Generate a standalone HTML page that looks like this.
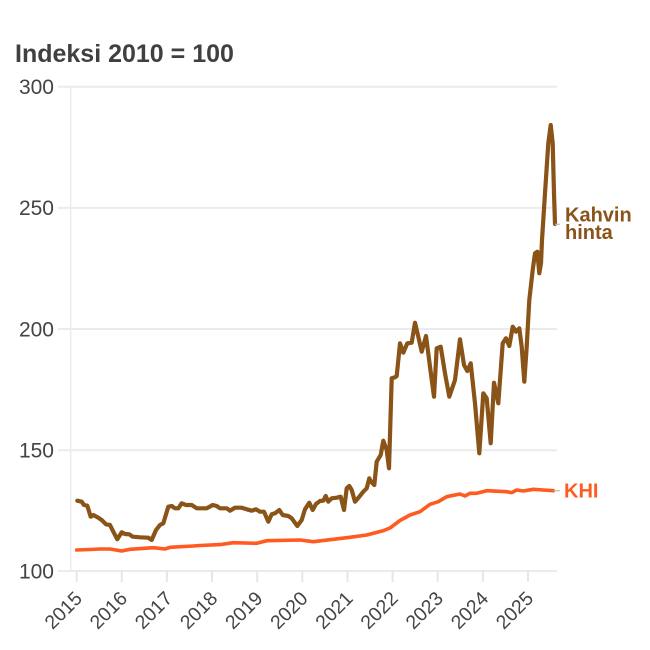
<!DOCTYPE html>
<html>
<head>
<meta charset="utf-8">
<style>
html,body{margin:0;padding:0;background:#fff;width:650px;height:650px;overflow:hidden;}
svg{display:block;font-family:"Liberation Sans",sans-serif;}
</style>
</head>
<body>
<svg width="650" height="650" viewBox="0 0 650 650" xmlns="http://www.w3.org/2000/svg">
<rect x="0" y="0" width="650" height="650" fill="#fff"/>
<text x="15" y="62" font-size="25" font-weight="bold" fill="#404040">Indeksi 2010 = 100</text>

<!-- gridlines -->
<g stroke="#ebebeb" stroke-width="2">
<line x1="58" y1="86.7" x2="557" y2="86.7"/>
<line x1="58" y1="207.9" x2="557" y2="207.9"/>
<line x1="58" y1="329" x2="557" y2="329"/>
<line x1="58" y1="450.3" x2="557" y2="450.3"/>
<line x1="58" y1="571" x2="557" y2="571"/>
</g>
<line x1="70.7" y1="86" x2="70.7" y2="571" stroke="#ededed" stroke-width="1.5"/>

<!-- x ticks -->
<g stroke="#e6e6e6" stroke-width="2">
<line x1="76.7" y1="571" x2="76.7" y2="582"/>
<line x1="121.8" y1="571" x2="121.8" y2="582"/>
<line x1="166.9" y1="571" x2="166.9" y2="582"/>
<line x1="212.1" y1="571" x2="212.1" y2="582"/>
<line x1="257.2" y1="571" x2="257.2" y2="582"/>
<line x1="302.3" y1="571" x2="302.3" y2="582"/>
<line x1="347.5" y1="571" x2="347.5" y2="582"/>
<line x1="392.6" y1="571" x2="392.6" y2="582"/>
<line x1="437.7" y1="571" x2="437.7" y2="582"/>
<line x1="482.9" y1="571" x2="482.9" y2="582"/>
<line x1="528" y1="571" x2="528" y2="582"/>
</g>

<!-- y labels -->
<g font-size="21" fill="#444" text-anchor="end">
<text x="54" y="94">300</text>
<text x="54" y="215.2">250</text>
<text x="54" y="336.3">200</text>
<text x="54" y="457.6">150</text>
<text x="54" y="578.3">100</text>
</g>

<!-- x labels -->
<g font-size="19.5" fill="#444" text-anchor="end">
<text transform="translate(83.3,599.6) rotate(-45)">2015</text>
<text transform="translate(128.4,599.6) rotate(-45)">2016</text>
<text transform="translate(173.5,599.6) rotate(-45)">2017</text>
<text transform="translate(218.7,599.6) rotate(-45)">2018</text>
<text transform="translate(263.8,599.6) rotate(-45)">2019</text>
<text transform="translate(308.9,599.6) rotate(-45)">2020</text>
<text transform="translate(354.1,599.6) rotate(-45)">2021</text>
<text transform="translate(399.2,599.6) rotate(-45)">2022</text>
<text transform="translate(444.3,599.6) rotate(-45)">2023</text>
<text transform="translate(489.5,599.6) rotate(-45)">2024</text>
<text transform="translate(534.6,599.6) rotate(-45)">2025</text>
</g>

<!-- KHI line -->
<polyline fill="none" stroke="#ff5a1f" stroke-width="3.6" stroke-linejoin="round" stroke-linecap="round"
points="76.7,550 90,549.5 100,549 110,549 121.7,551 130,549.3 153.3,547.7 165,549 170,547.3 193.3,546 200,545.5 220,544.6 233.3,542.7 256.7,543.3 266.7,540.7 300,540 313.3,541.7 333.3,539.3 350,537.3 366.7,535 383.3,530.7 390,528 400,520.5 410,515 420,511.7 430,504.3 438.3,501.7 446.7,496.7 460,494 465,496 470,493.3 476.7,493.3 486.7,490.7 506.7,491.7 511.7,492.7 516.7,490 523.3,491 533.3,489.3 543.3,490 553.3,490.7"/>

<!-- Coffee price line -->
<polyline fill="none" stroke="#8a5317" stroke-width="4.2" stroke-linejoin="round" stroke-linecap="round"
points="77.3,500.7 81.7,501.7 84,505 87.3,505.7 90.7,516.7 93.3,515 98.3,517.7 101.7,520 106,524.3 110,525 113.3,531.7 117.3,539.3 121.7,532.3 125,534 129.3,534.3 132.7,536.7 140,537.3 148.3,537.7 151.7,540 156,530 160,525 163.3,523.3 168.3,506.7 171.7,506 175,508.3 178.3,508.3 181.7,503.3 186,505 191.7,505 196.7,508.3 206.7,508.3 212.7,505 216.7,506 220,508.3 226.7,508.3 230,510.7 235,507.7 241.7,507.7 246.7,509.3 251.7,510.7 256,509.3 260,511.7 264,511.7 268.3,521.7 271.7,514.3 275,513.3 279.3,510 282.7,515 288.3,516 291.7,518.3 297.3,526 301.7,520 305,509.3 309.3,502.7 312.7,510 316,504 320,501 323.3,500.7 325.7,496 328.3,501.7 331.7,498.3 336.7,497.7 340.7,496.7 344,510 346.7,488.3 349.3,486 351.7,490 355,501.7 359.3,496.7 363.3,491.7 366.7,488.3 369.3,478.3 371,481.7 374.3,485 376.7,461.7 380.7,455 383.3,440.7 386.7,450 389,468.3 391.7,378.3 395,377.3 396.7,376 400,343.3 403.3,352.7 407.3,343.3 411.7,342.7 415,322.7 418.3,336.7 421.7,351.7 426,336 430,366.7 434,396.7 436.7,348.3 440.7,346.7 445,373.3 449.3,396.7 455,380 460,339.3 464,365 467.3,371 470.7,363.3 475,403.3 479.3,453.3 483.3,393.3 486.7,398.3 490.7,443.3 494,382.7 498.3,403.3 502.7,343.3 506,338.3 509.3,346 512.7,326.7 516,331.7 519.3,328.3 521.7,346.7 524.3,381.7 526.7,346.7 529.3,300 532.7,270 535,253.3 537.3,251.7 539.3,273.3 541,263.3 542,240 545,193.3 548.3,143.3 550.7,125 552.7,143.3 554,193.3 555,224"/>

<!-- connectors -->
<line x1="555" y1="224.3" x2="560" y2="224.3" stroke="#bbb" stroke-width="1.2"/>
<line x1="553.5" y1="490.7" x2="560" y2="490.7" stroke="#bbb" stroke-width="1.2"/>

<!-- labels -->
<g font-size="20" font-weight="bold">
<text x="565" y="221.7" fill="#8a5317">Kahvin</text>
<text x="565" y="239.2" fill="#8a5317">hinta</text>
<text x="564" y="497.7" fill="#ff5a1f">KHI</text>
</g>
</svg>
</body>
</html>
